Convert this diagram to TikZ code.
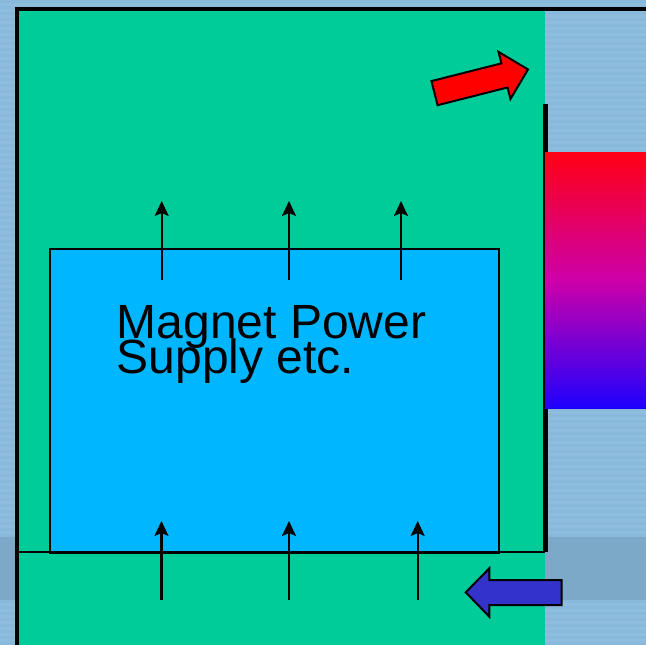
\documentclass[tikz,border=0pt]{standalone}
\usepackage{fontspec}
\setmainfont{Liberation Sans}
\usetikzlibrary{arrows.meta}
\definecolor{bgblue}{RGB}{142,189,222}
\definecolor{bgstripe}{RGB}{128,176,210}
\definecolor{bgband}{RGB}{124,169,199}
\definecolor{cabgreen}{RGB}{0,204,153}
\definecolor{psublue}{RGB}{0,183,255}
\definecolor{hotred}{RGB}{255,0,20}
\definecolor{midmag}{RGB}{205,0,170}
\definecolor{coldblue}{RGB}{30,0,255}
\definecolor{arrred}{RGB}{255,0,0}
\definecolor{arrblue}{RGB}{51,51,204}
\tikzset{
  flow/.style={line width=2.3pt,-{Stealth[length=15pt,width=14pt,inset=3pt]}},
  blockarrow/.style={draw=black,line width=2pt,line join=miter},
  border/.style={draw=black,line width=4pt},
  thinline/.style={draw=black,line width=2pt},
}
\begin{document}
\begin{tikzpicture}[x=1pt,y=-1pt]
\useasboundingbox (0,0) rectangle (646,645);
% background
\fill[bgblue] (0,0) rectangle (646,645);
\foreach \yy in {0,6,...,642} {\fill[bgstripe,opacity=0.3] (0,\yy) rectangle (646,\yy+2.5);}
\fill[bgband] (0,537) rectangle (646,600);
% cabinet (green)
\fill[cabgreen] (17,8.7) rectangle (545,645);
% power supply box
\node[draw=black,line width=2pt,fill=psublue,inner sep=0pt,anchor=north west,minimum width=448.5pt,minimum height=304pt] (psu) at (49,248) {};
% bottom line of cabinet floor
\coordinate (fl) at (17,552.3);
\coordinate (fr) at (545,552.3);
\draw[thinline] (fl) -- (fr);
% cabinet borders
\coordinate (tl) at (17,8.7);
\coordinate (tr) at (646,8.7);
\coordinate (bl) at (17,645);
\draw[border,line cap=rect] (tr) -- (tl) -- (bl);
% right wall line
\coordinate (rwt) at (545.6,104.3);
\coordinate (rwb) at (545.6,552);
\draw[draw=black,line width=4.5pt] (rwt) -- (rwb);
% heat exchanger gradient
\shade[top color=hotred,bottom color=coldblue,middle color=midmag] (545,152) rectangle (646,408.7);
% label
\node[anchor=base west,inner sep=0pt,align=left,font={\fontsize{48}{35}\selectfont\lineskiplimit=-100pt}] (lbl) at (116.5,373.3) {Magnet Power\\Supply etc.};
% air flow arrows (top)
\foreach \i/\x in {1/161.7,2/289,3/401} {
  \coordinate (ts\i) at (\x,280);
  \coordinate (te\i) at (\x,201);
  \draw[flow] (ts\i) -- (te\i);
}
% air flow arrows (bottom)
\foreach \i/\x in {1/161.5,2/289,3/417.7} {
  \coordinate (bs\i) at (\x,600);
  \coordinate (be\i) at (\x,521);
  \draw[flow] (bs\i) -- (be\i);
}
% red outflow block arrow
\draw[blockarrow,fill=arrred] (431.44,81.09) -- (501.40,63.36) -- (498.48,51.82) -- (528,69.45) -- (510.44,99.02) -- (507.52,87.48) -- (437.56,105.21) -- cycle;
% blue inflow block arrow
\draw[blockarrow,fill=arrblue] (561.7,580) -- (489.3,580) -- (489.3,568.3) -- (465.7,592.3) -- (489.3,616.7) -- (489.3,605) -- (561.7,605) -- cycle;
\end{tikzpicture}
\end{document}
